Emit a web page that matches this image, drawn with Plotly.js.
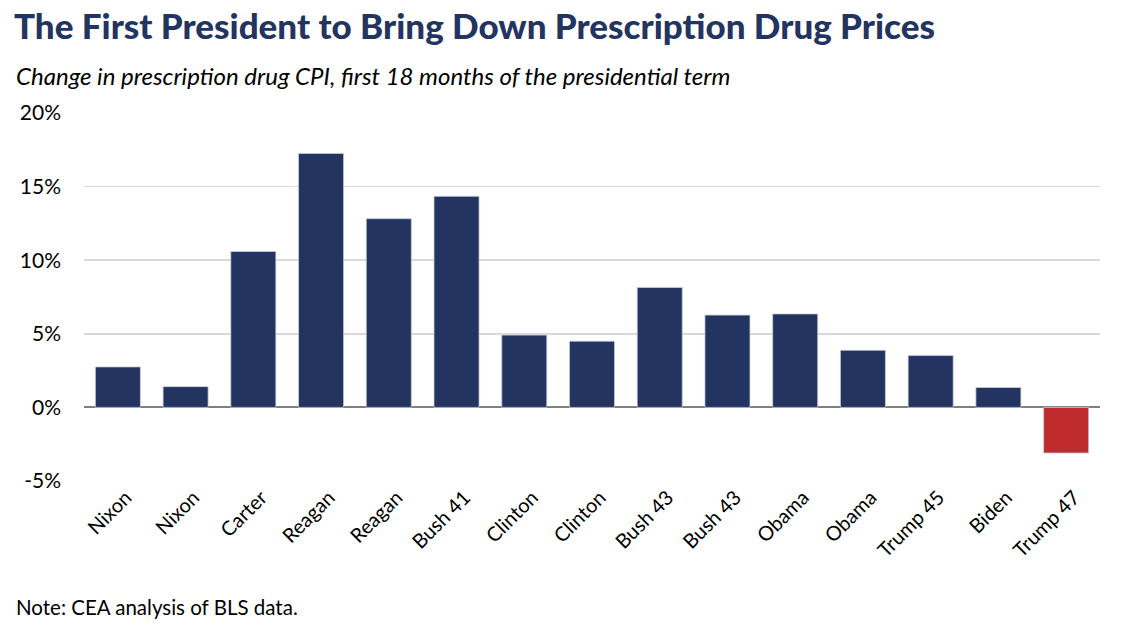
<!DOCTYPE html>
<html>
<head>
<meta charset="utf-8">
<script src="https://cdn.plot.ly/plotly-3.0.1.min.js"></script>
<style>html,body{margin:0;padding:0;background:#fff;}#chart{width:1122px;height:640px;}</style>
</head>
<body>
<div id="chart"></div>
<script>
const presidents = ["Nixon","Nixon","Carter","Reagan","Reagan","Bush 41","Clinton","Clinton","Bush 43","Bush 43","Obama","Obama","Trump 45","Biden","Trump 47"];
const cpiChange = [2.75, 1.41, 10.59, 17.25, 12.82, 14.34, 4.91, 4.5, 8.15, 6.27, 6.35, 3.88, 3.52, 1.35, -3.1];
const tickVals = [-5, 0, 5, 10, 15, 20];
const tickText = ["-5%", "0%", "5%", "10%", "15%", "20%"];

const NAVY = "#22345F";
const RED = "#BF2B2D";
const xIdx = presidents.map((_, i) => i);
const colors = cpiChange.map(v => v < 0 ? RED : NAVY);

const trace = {
  type: "bar",
  x: xIdx,
  y: cpiChange,
  marker: {color: colors, line: {color: "rgba(200,205,220,0.8)", width: 1}},
  width: 0.665,
  hoverinfo: "skip"
};

const layout = {
  width: 1122, height: 640,
  margin: {l: 84, r: 22, t: 113, b: 159},
  paper_bgcolor: "#fff", plot_bgcolor: "#fff",
  showlegend: false,
  font: {family: "Lato, 'Noto Sans', sans-serif", color: "#000"},
  title: {
    text: "The First President to Bring Down Prescription Drug Prices",
    font: {family: "Lato, sans-serif", size: 35, color: "#22345F", weight: 900},
    xref: "container", yref: "container", x: 14/1122, xanchor: "left", y: 1 - 27/640, yanchor: "middle"
  },
  xaxis: {
    range: [-0.5, 14.5],
    tickmode: "array", tickvals: xIdx, ticktext: presidents,
    tickangle: -45, tickfont: {size: 20, family: "Lato, sans-serif", color: "#000"},
    ticklabelshift: 8,
    showgrid: false, zeroline: false, showline: false, ticks: "", fixedrange: true
  },
  yaxis: {
    range: [-5, 20],
    tickmode: "array", tickvals: tickVals, ticktext: tickText,
    tickfont: {size: 21, family: "Lato, sans-serif", color: "#000"},
    showgrid: true, gridcolor: "#D9D9D9", gridwidth: 1.5,
    zeroline: true, zerolinecolor: "#7F7F7F", zerolinewidth: 2,
    showline: false, ticks: "", ticklabelstandoff: 22, fixedrange: true
  },
  annotations: [
    {
      text: "<i>Change in prescription drug CPI, first 18 months of the presidential term</i>",
      xref: "paper", yref: "paper", x: -70/1016, y: 1 + 38/368, xanchor: "left", yanchor: "middle",
      showarrow: false, font: {size: 24, family: "Lato, sans-serif", color: "#000"}
    },
    {
      text: "Note: CEA analysis of BLS data.",
      xref: "paper", yref: "paper", x: -70/1016, y: -(607 - 481)/368, xanchor: "left", yanchor: "middle",
      showarrow: false, font: {size: 20.5, family: "Lato, sans-serif", color: "#000"}
    }
  ]
};

Plotly.newPlot("chart", [trace], layout, {displayModeBar: false, staticPlot: true});
</script>
</body>
</html>
